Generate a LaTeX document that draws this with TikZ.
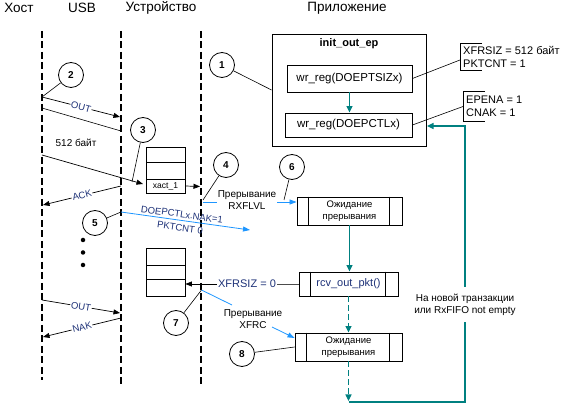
\documentclass[tikz,border=0pt]{standalone}
\usepackage{fontspec}
\setmainfont{Liberation Sans}
\usetikzlibrary{arrows.meta}
\definecolor{tealc}{RGB}{0,128,128}
\definecolor{bluec}{RGB}{30,150,255}
\definecolor{navyc}{RGB}{30,50,120}
\begin{document}
\begin{tikzpicture}[x=1pt,y=-1pt,
  lifeline/.style={line width=1.6pt, dash pattern=on 7pt off 3.5pt},
  tri/.style={-{Triangle[length=6.5pt,width=5pt]}},
  msg/.style={line width=0.7pt, tri},
  thinl/.style={line width=0.6pt},
  hdr/.style={font=\fontsize{13.5pt}{16pt}\selectfont, inner sep=0pt},
  num/.style={draw, circle, line width=0.8pt, minimum size=25pt, inner sep=0pt, font=\fontsize{10pt}{12pt}\selectfont\bfseries},
  box/.style={draw, line width=0.9pt, inner sep=0pt},
  pbox/.style={draw, line width=0.9pt, inner sep=0pt, align=center, font=\fontsize{9.5pt}{12pt}\selectfont},
  cell/.style={draw, line width=0.8pt, inner sep=0pt, minimum width=39pt},
  lbl/.style={font=\fontsize{10pt}{12pt}\selectfont, align=center, inner sep=1pt},
  msglbl/.style={font=\fontsize{9.5pt}{10pt}\selectfont, text=navyc, fill=white, inner sep=0.8pt, sloped},
  doelbl/.style={font=\fontsize{9.5pt}{11pt}\selectfont, text=navyc, inner sep=0pt, rotate=-7.9},
  tealarrow/.style={draw=tealc, line width=1.2pt, -{Triangle[length=6.5pt,width=6pt]}, color=tealc},
  tdash/.style={dash pattern=on 6pt off 3pt},
  tealline/.style={draw=tealc, line width=1.2pt},
  blueline/.style={draw=bluec, line width=0.8pt},
  bluearrow/.style={draw=bluec, line width=0.8pt, -{Triangle[length=7pt,width=5pt]}, color=bluec},
  callout/.style={anchor=west, align=left, font=\fontsize{11pt}{12.5pt}\selectfont, inner xsep=3pt, inner ysep=0pt},
  dotn/.style={circle, fill=black, inner sep=0pt, minimum size=4.5pt}
]
\useasboundingbox (0,0) rectangle (563,406);

% headers
\node[hdr] (hHost) at (19,8) {Хост};
\node[hdr] (hUSB) at (82,8) {USB};
\node[hdr] (hDev) at (161,8) {Устройство};
\node[hdr] (hApp) at (347,8) {Приложение};

% lifelines
\coordinate (hostT) at (42,31);
\coordinate (hostB) at (42,380);
\coordinate (usbT) at (121,31);
\coordinate (usbB) at (121,388);
\coordinate (devT) at (201,31);
\coordinate (devB) at (201,388);
\draw[lifeline] (hostT) -- (hostB);
\draw[lifeline] (usbT) -- (usbB);
\draw[lifeline] (devT) -- (devB);

% application boxes
\node[box, minimum width=154pt, minimum height=112pt] (init) at (349,90) {};
\node[font=\fontsize{11pt}{13pt}\selectfont\bfseries, inner sep=0pt] (initT) at (349,44) {init\_out\_ep};
\node[box, minimum width=125pt, minimum height=27pt, font=\fontsize{11.5pt}{13pt}\selectfont] (wr1) at (349.5,78.5) {wr\_reg(DOEPTSIZx)};
\node[box, minimum width=127pt, minimum height=24pt, font=\fontsize{11.5pt}{13pt}\selectfont] (wr2) at (348.5,125) {wr\_reg(DOEPCTLx)};
\draw[tealarrow] (wr1.south) -- (wr1.south |- wr2.north);

% callouts
\node[callout, minimum height=26pt] (cal1) at (460,57) {XFRSIZ = 512 байт\\PKTCNT = 1};
\draw[thinl] ([xshift=22pt]cal1.north west) -- (cal1.north west) -- (cal1.south west) -- ([xshift=22pt]cal1.south west);
\node[callout, minimum height=29pt] (cal2) at (463,106.5) {EPENA = 1\\CNAK = 1};
\draw[thinl] ([xshift=22pt]cal2.north west) -- (cal2.north west) -- (cal2.south west) -- ([xshift=22pt]cal2.south west);
\draw[thinl] (wr1.east) -- ([yshift=-3pt]cal1.west);
\draw[thinl] (wr2.east) -- (cal2.west);

% process boxes
\node[pbox, minimum width=105pt, minimum height=28pt] (wait1) at (349.5,211) {Ожидание\\прерывания};
\node[pbox, minimum width=99pt, minimum height=24pt, font=\fontsize{11pt}{13pt}\selectfont, text=navyc] (rcv) at (348.5,284) {rcv\_out\_pkt()};
\node[pbox, minimum width=107pt, minimum height=28pt] (wait2) at (348.5,347) {Ожидание\\прерывания};
\foreach \b in {wait1,rcv,wait2}{
  \draw[line width=0.9pt] ([xshift=12pt]\b.north west) -- ([xshift=12pt]\b.south west);
  \draw[line width=0.9pt] ([xshift=-13pt]\b.north east) -- ([xshift=-13pt]\b.south east);
}
\draw[tealarrow] (wait1.south) -- (wait1.south |- rcv.north);
\draw[tealarrow, tdash] (rcv.south) -- (rcv.south |- wait2.north);
\coordinate (loopA) at (348.5,401);
\draw[tealarrow, tdash] (wait2.south) -- (loopA);
\node[lbl, minimum height=35pt] (fb) at (465,304.5) {На новой транзакции\\или RxFIFO not empty};
\draw[tealline] ([yshift=-1pt]loopA) -| (fb.south);
\coordinate (fbT) at (427,126);
\draw[tealarrow] (fb.north) |- (fbT);

% FIFOs
\node[cell, minimum height=15pt] (f1a) at (165.5,154.5) {};
\node[cell, minimum height=17pt] (f1b) at (165.5,170.5) {};
\node[cell, minimum height=14pt, font=\fontsize{8.5pt}{10pt}\selectfont] (f1c) at (165.5,186) {xact\_1};
\node[cell, minimum height=17pt] (f2a) at (165.5,256.5) {};
\node[cell, minimum height=14pt] (f2b) at (165.5,272) {};
\node[cell, minimum height=17pt] (f2c) at (165.5,287.5) {};

% circles
\node[num] (c1) at (222,65) {1};
\node[num] (c2) at (71,75) {2};
\node[num] (c3) at (143,130) {3};
\node[num] (c4) at (226,165) {4};
\node[num] (c5) at (95,223) {5};
\node[num] (c6) at (292,167) {6};
\node[num] (c7) at (176,323) {7};
\node[num] (c8) at (242,354) {8};

% message coordinates
\coordinate (h1) at (42,97);
\coordinate (u1) at (120,117);
\coordinate (h2) at (42,108);
\coordinate (u2) at (121,131);
\coordinate (h3) at (42,155);
\coordinate (p3b) at (143,184);
\coordinate (d3) at (200,186.5);
\coordinate (u4) at (121,186);
\coordinate (h4) at (43,205);
\coordinate (u5) at (121,212);
\coordinate (x5) at (250,230);
\coordinate (h6) at (42,300);
\coordinate (u6) at (120,313);
\coordinate (u7) at (121,318);
\coordinate (h7) at (43,337);
\coordinate (p3) at (132,182);
\coordinate (p4) at (203,200);
\coordinate (p6) at (284,200);
\coordinate (d4) at (203,202);
\coordinate (d7) at (201.5,290);

% messages
\draw[msg] (h1) -- node[msglbl] {OUT} (u1);
\draw[thinl] (h2) -- (u2);
\draw[msg] (h3) -- (p3b);
\draw[msg] (f1c.east) -- (d3);
\draw[msg] (u4) -- node[msglbl] {ACK} (h4);
\draw[bluearrow] (u5) -- (x5);
\node[doelbl] (doe1) at (182,214.5) {DOEPCTLx.NAK=1};
\node[doelbl] (doe2) at (180,227.5) {PKTCNT 0};
\draw[msg] (h6) -- node[msglbl] {OUT} (u6);
\draw[msg] (u7) -- node[msglbl] {NAK} (h7);

\node[lbl] (b512) at (76,143) {512 байт};
\node[dotn] (dot1) at (83,240) {};
\node[dotn] (dot2) at (83,252.5) {};
\node[dotn] (dot3) at (83,265) {};

% circle leaders
\draw[thinl] (c1) -- (init.west);
\draw[thinl] (c2) -- (h1);
\draw[thinl] (c3) -- (p3);
\draw[thinl] (c4) -- (p4);
\draw[thinl] (c6) -- (p6);
\draw[thinl] (c5) -- (u5);
\draw[thinl] (c7) -- (d7);
\draw[thinl] (c8) -- (wait2.west);

% RXFLVL
\node[lbl] (rx) at (247,200) {Прерывание\\RXFLVL};
\draw[blueline] (d4) -- (d4 -| rx.west);
\draw[bluearrow] (d4 -| rx.east) -- (d4 -| wait1.west);

% XFRSIZ = 0
\node[font=\fontsize{11pt}{13pt}\selectfont, text=navyc, inner sep=1pt] (xfr) at (247,284) {XFRSIZ = 0};
\draw[msg] (xfr.west) -- (xfr.west -| f2c.east);
\draw[line width=0.7pt, draw=black!70] (xfr.east) -- (rcv.west);

% XFRC
\node[lbl] (xf) at (253,319) {Прерывание\\XFRC};
\coordinate (xfa) at (232,305);
\coordinate (xfb) at (272,327);
\draw[blueline] (d7) -- (xfa);
\draw[bluearrow] (xfb) -- ([yshift=9pt]wait2.west);
\end{tikzpicture}
\end{document}
